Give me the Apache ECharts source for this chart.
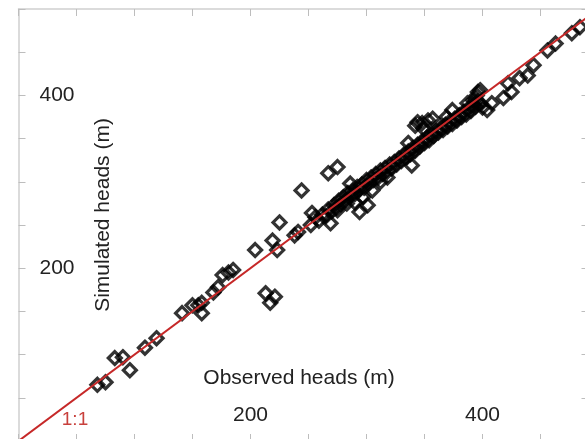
<!DOCTYPE html>
<html>
<head>
<meta charset="utf-8">
<script src="https://cdn.jsdelivr.net/npm/echarts@6/dist/echarts.min.js"></script>
<style>
html,body{margin:0;padding:0;background:#fff;}
#chart{width:585px;height:439px;}
</style>
</head>
<body>
<div id="chart"></div>
<script>
// Observed heads (m) — x values
const observed = [
  68,75,83,90,96,109,119,141,150,155,158,158,168,172,176,181,185,204,219,223,225,213,221,217,
  238,241,244,253,267,275,269,275,286,283,294,301,339,344,349,353,357,348,342,336,
  398,396,400,404,408,418,422,425,432,439,444,456,463,477,484,
  369,374,387,392,395,
  252,256,259,262,265,267,270,272,274,276,278,280,282,284,286,288,290,292,294,296,298,
  300,302,304,306,308,310,312,314,316,318,320,322,324,326,328,330,332,334,336,338,340,
  342,344,346,348,350,352,354,356,358,360,362,364,366,368,370,372,374,376,378,380,382,
  384,386,388,390,392,394,396,398,290,297,305,312,318
];
// Simulated heads (m) — y values
const simulated = [
  65,68,96,97,82,108,119,148,157,157,148,160,172,178,192,195,198,221,232,221,253,171,167,160,
  238,242,290,264,310,317,252,267,298,275,265,273,319,369,362,371,373,368,365,345,
  406,404,386,383,391,397,414,404,420,423,435,452,460,472,479,
  375,383,391,394,400,
  250,259,255,262,260,268,266,273,270,278,274,282,279,287,283,290,286,294,291,297,293,
  302,298,305,302,309,305,313,309,316,312,320,316,323,320,327,324,331,328,335,332,339,
  336,343,341,347,345,351,348,355,353,359,357,362,360,366,364,370,367,373,371,377,375,
  381,378,385,382,389,387,393,391,276,282,290,300,305
];
// 1:1 reference line end points
const oneToOne = [0, 500];
// Tick labels that are shown
const xTickLabels = [200, 400];
const yTickLabels = [200, 400];

const points = observed.map((x, i) => [x, simulated[i]]);
const lineData = oneToOne.map(v => [v, v]);

const chart = echarts.init(document.getElementById('chart'), null, {renderer: 'canvas'});
const tickStyle = {show: true, inside: true, length: 7, lineStyle: {color: '#bdbdbd', width: 1}};
const fontFam = '"Liberation Sans", Arial, sans-serif';

chart.setOption({
  animation: false,
  backgroundColor: '#fff',
  grid: {left: 18.5, top: 9, width: 580, height: 432, containLabel: false, outerBoundsMode: 'none'},
  xAxis: [
    {
      type: 'value', min: 0, max: 500, interval: 50, position: 'bottom',
      axisLine: {show: false, onZero: false},
      axisTick: tickStyle,
      splitLine: {show: false},
      axisLabel: {
        inside: true, margin: 15, fontSize: 21, color: '#222', fontFamily: fontFam,
        formatter: v => xTickLabels.includes(v) ? String(v) : ''
      }
    },
    {
      type: 'value', min: 0, max: 500, interval: 50, position: 'top',
      axisLine: {show: true, onZero: false, lineStyle: {color: '#cfcfcf', width: 1.5}},
      axisTick: tickStyle,
      splitLine: {show: false},
      axisLabel: {show: false}
    }
  ],
  yAxis: [
    {
      type: 'value', min: 0, max: 500, interval: 50, position: 'left',
      axisLine: {show: true, onZero: false, lineStyle: {color: '#cfcfcf', width: 1.5}},
      axisTick: tickStyle,
      splitLine: {show: false},
      axisLabel: {
        inside: true, margin: 21, fontSize: 21, color: '#222', fontFamily: fontFam,
        formatter: v => yTickLabels.includes(v) ? String(v) : ''
      }
    },
    {
      type: 'value', min: 0, max: 500, interval: 50, position: 'right', offset: -10,
      axisLine: {show: false, onZero: false},
      axisTick: tickStyle,
      splitLine: {show: false},
      axisLabel: {show: false}
    }
  ],
  series: [
    {
      type: 'scatter',
      data: points,
      symbol: 'diamond',
      symbolSize: 13,
      itemStyle: {color: 'rgba(0,0,0,0)', borderColor: '#000', borderWidth: 3.2},
      z: 2
    },
    {
      type: 'line',
      data: lineData,
      showSymbol: false,
      symbol: 'none',
      lineStyle: {color: '#c62828', width: 2},
      z: 3
    }
  ],
  graphic: [
    {type: 'text', x: 299, y: 378, style: {text: 'Observed heads (m)', fontSize: 21, fontFamily: fontFam, fill: '#222', textAlign: 'center', textVerticalAlign: 'middle'}},
    {type: 'text', x: 103, y: 215, rotation: Math.PI / 2, style: {text: 'Simulated heads (m)', fontSize: 21, fontFamily: fontFam, fill: '#222', textAlign: 'center', textVerticalAlign: 'middle'}},
    {type: 'text', x: 75, y: 420, style: {text: '1:1', fontSize: 19, fontFamily: fontFam, fill: '#c8403c', textAlign: 'center', textVerticalAlign: 'middle'}}
  ]
});
</script>
</body>
</html>
